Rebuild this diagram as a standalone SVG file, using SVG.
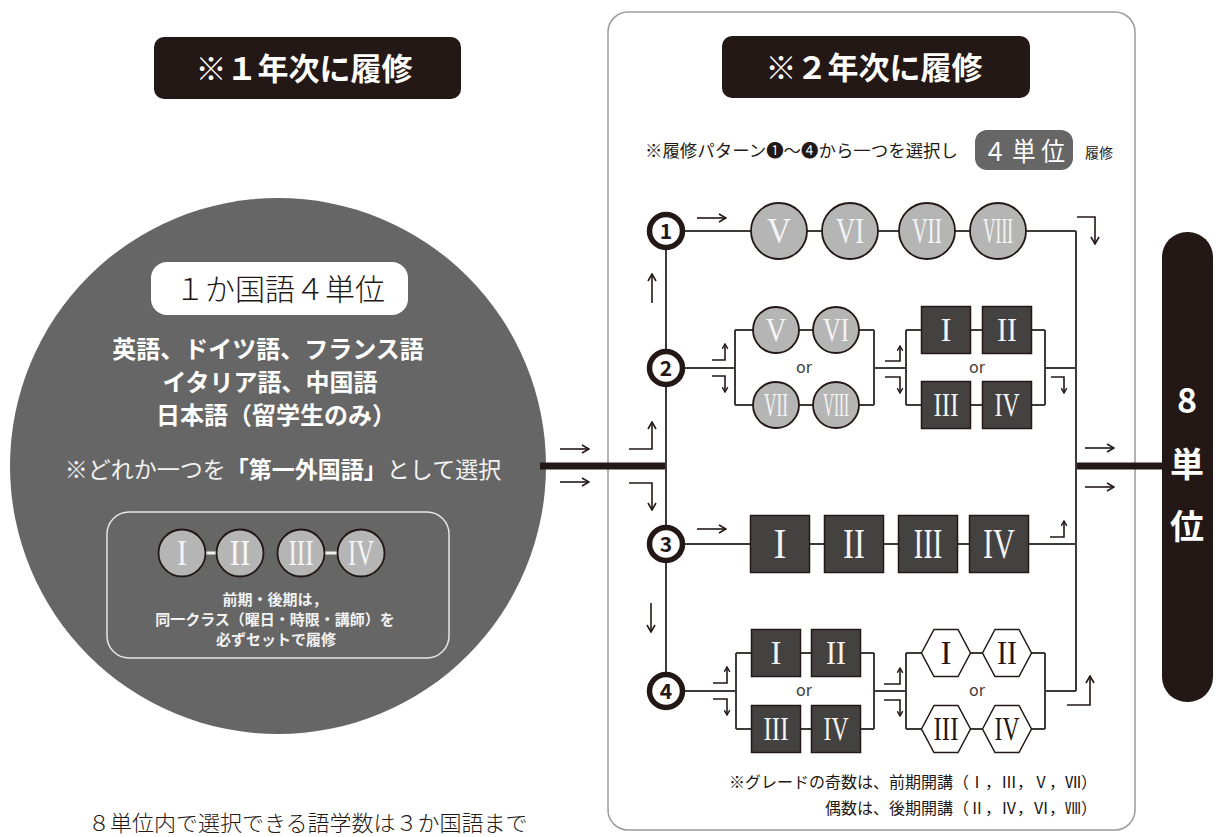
<svg xmlns="http://www.w3.org/2000/svg" width="1216" height="837" viewBox="0 0 1216 837">
<defs>
<style>
.jp{font-family:"Noto Sans CJK JP","Noto Sans CJK SC",sans-serif}
.ln{stroke:#3e3a39;stroke-width:2;fill:none}
.ar{stroke:#231815;stroke-width:1.6;fill:none}
.cg{fill:#b5b5b5;stroke:#231815;stroke-width:1.8}
.sq{fill:#444141;stroke:#231815;stroke-width:1.5}
.hx{fill:#fff;stroke:#231815;stroke-width:1.5}
.rn{font-family:"Liberation Serif","DejaVu Serif",serif;text-anchor:middle}
.rw{fill:#f4f4f4}
.rd{fill:#231815}
.nd{fill:#fff;stroke:#231815;stroke-width:5.5}
.ndt{font-family:"Noto Sans CJK JP",sans-serif;font-weight:700;font-size:21px;fill:#231815;text-anchor:middle}
.or{font-family:"Noto Sans CJK JP",sans-serif;font-size:16px;fill:#3e3a39;text-anchor:middle}
</style>
<marker id="ah" viewBox="0 0 10 10" refX="9" refY="5" markerWidth="10" markerHeight="10" markerUnits="userSpaceOnUse" orient="auto">
<path d="M2 1 L9 5 L2 9" fill="none" stroke="#231815" stroke-width="1.6"/>
</marker>
<marker id="as" viewBox="0 0 10 10" refX="9" refY="5" markerWidth="7" markerHeight="7" markerUnits="userSpaceOnUse" orient="auto">
<path d="M2 1 L9 5 L2 9" fill="none" stroke="#231815" stroke-width="2"/>
</marker>
<polygon id="hex" points="-24.5,0 -12,-23.5 12,-23.5 24.5,0 12,23.5 -12,23.5" class="hx"/>
</defs>

<rect width="1216" height="837" fill="#fff"/>

<g id="header1">
<rect x="154" y="37" width="307" height="62" rx="10" fill="#231815"/>
<text x="304" y="80" class="jp" font-size="31" font-weight="700" fill="#fff" text-anchor="middle">※１年次に履修</text>
</g>
<g id="panel2">
<rect x="608" y="12" width="527" height="818" rx="20" fill="none" stroke="#9a9a9a" stroke-width="1.5"/>
</g>
<g id="header2">
<rect x="722" y="36" width="308" height="62" rx="10" fill="#231815"/>
<text x="874" y="79" class="jp" font-size="31" font-weight="700" fill="#fff" text-anchor="middle">※２年次に履修</text>
</g>
<g id="subtitle">
<text x="645" y="157" class="jp" font-size="16.5" fill="#231815" textLength="313" lengthAdjust="spacingAndGlyphs">※履修パターン❶〜❹から一つを選択し</text>
<rect x="975" y="130" width="98" height="40" rx="12" fill="#666"/>
<text x="1024" y="161" class="jp" font-size="26" fill="#fff" text-anchor="middle" textLength="82" lengthAdjust="spacingAndGlyphs">４ 単 位</text>
<text x="1085" y="158" class="jp" font-size="14" fill="#231815">履修</text>
</g>

<g id="year1">
<circle cx="278" cy="466" r="268" fill="#666"/>
<rect x="151" y="262" width="257" height="53" rx="16" fill="#fff"/>
<text x="280" y="300" class="jp" font-size="30" font-weight="300" fill="#231815" text-anchor="middle">１か国語４単位</text>
<g class="jp" font-size="24" font-weight="700" fill="#fff" text-anchor="middle">
<text x="268" y="358">英語、ドイツ語、フランス語</text>
<text x="270" y="391">イタリア語、中国語</text>
<text x="276" y="424">日本語（留学生のみ）</text>
</g>
<text x="283" y="478" class="jp" font-size="23" fill="#f2f2f2" text-anchor="middle">※どれか一つを<tspan font-weight="700" fill="#fff">「第一外国語」</tspan>として選択</text>
<rect x="107" y="512" width="342" height="146" rx="22" fill="none" stroke="#e6e6e6" stroke-width="1.5"/>
<line x1="205" y1="553" x2="218" y2="553" stroke="#f0f0f0" stroke-width="3"/>
<line x1="323" y1="553" x2="339" y2="553" stroke="#f0f0f0" stroke-width="3"/>
<circle cx="182" cy="553" r="23.5" class="cg"/>
<circle cx="240" cy="553" r="23.5" class="cg"/>
<circle cx="301" cy="553" r="23.5" class="cg"/>
<circle cx="361" cy="553" r="23.5" class="cg"/>
<g class="rn rw" font-size="36">
<text x="182" y="565" textLength="10" lengthAdjust="spacingAndGlyphs">I</text>
<text x="240" y="565" textLength="21" lengthAdjust="spacingAndGlyphs">II</text>
<text x="301" y="565" textLength="25" lengthAdjust="spacingAndGlyphs">III</text>
<text x="361" y="565" textLength="26" lengthAdjust="spacingAndGlyphs">IV</text>
</g>
<g class="jp" font-size="15" font-weight="700" fill="#f2f2f2" text-anchor="middle">
<text x="275" y="605">前期・後期は，</text>
<text x="275" y="625">同一クラス（曜日・時限・講師）を</text>
<text x="276" y="645">必ずセットで履修</text>
</g>
</g>

<text id="note-left" x="88" y="831" class="jp" font-size="22" font-weight="300" fill="#231815">８単位内で選択できる語学数は３か国語まで</text>

<g id="connectors">
<line x1="540" y1="466" x2="666" y2="466" stroke="#231815" stroke-width="7"/>
<line x1="1076" y1="466" x2="1165" y2="466" stroke="#231815" stroke-width="7"/>
<line x1="666" y1="231" x2="666" y2="691" class="ln"/>
<line x1="1076" y1="231" x2="1076" y2="691" class="ln"/>
<line x1="666" y1="231" x2="1076" y2="231" class="ln"/>
<path class="ln" d="M666 368 H735 M735 330 V405 M735 330 H760 M735 405 H760 M790 330 H820 M790 405 H820 M850 330 H874 M850 405 H874 M874 330 V405 M874 368 H906 M906 330 V405 M906 330 H925 M906 405 H925 M965 330 H985 M965 405 H985 M1028 330 H1045 M1028 405 H1045 M1045 330 V405 M1045 368 H1076"/>
<line x1="666" y1="544" x2="1076" y2="544" class="ln"/>
<path class="ln" d="M666 691 H736 M736 653 V729 M736 653 H760 M736 729 H760 M790 653 H820 M790 729 H820 M850 653 H874 M850 729 H874 M874 653 V729 M874 691 H906 M906 653 V729 M906 653 H925 M906 729 H925 M965 653 H985 M965 729 H985 M1028 653 H1045 M1028 729 H1045 M1045 653 V729 M1045 691 H1076"/>
<g class="ar">
<path d="M560 449 H589" marker-end="url(#ah)"/>
<path d="M560 482 H589" marker-end="url(#ah)"/>
<path d="M629 449 H652 V422" marker-end="url(#ah)"/>
<path d="M629 483 H652 V510" marker-end="url(#ah)"/>
<path d="M652 303 V274" marker-end="url(#ah)"/>
<path d="M651 603 V632" marker-end="url(#ah)"/>
<path d="M697 218 H726" marker-end="url(#ah)"/>
<path d="M697 529 H726" marker-end="url(#ah)"/>
<path d="M1077 217 H1095 V244" marker-end="url(#ah)"/>
<path d="M1085 448 H1114" marker-end="url(#ah)"/>
<path d="M1085 487 H1114" marker-end="url(#ah)"/>
<path d="M1067 705 H1090 V676" marker-end="url(#ah)"/>
<path d="M712 360 H725 V344" marker-end="url(#as)"/>
<path d="M712 376 H725 V392" marker-end="url(#as)"/>
<path d="M885 361 H900 V346" marker-end="url(#as)"/>
<path d="M885 377 H900 V393" marker-end="url(#as)"/>
<path d="M1051 377 H1064 V393" marker-end="url(#as)"/>
<path d="M1050 537 H1064 V521" marker-end="url(#as)"/>
<path d="M713 683 H727 V667" marker-end="url(#as)"/>
<path d="M713 699 H727 V715" marker-end="url(#as)"/>
<path d="M884 684 H900 V668" marker-end="url(#as)"/>
<path d="M884 700 H900 V716" marker-end="url(#as)"/>
</g>
</g>

<g id="node1"><circle cx="666" cy="231" r="16.5" class="nd"/><text x="666" y="239" class="ndt">1</text></g>
<g id="node2"><circle cx="666" cy="368" r="16.5" class="nd"/><text x="666" y="376" class="ndt">2</text></g>
<g id="node3"><circle cx="666" cy="544" r="16.5" class="nd"/><text x="666" y="552" class="ndt">3</text></g>
<g id="node4"><circle cx="666" cy="691" r="16.5" class="nd"/><text x="666" y="699" class="ndt">4</text></g>

<g id="row1">
<circle cx="779" cy="231" r="28" class="cg"/>
<circle cx="850" cy="231" r="28" class="cg"/>
<circle cx="927" cy="231" r="28" class="cg"/>
<circle cx="998" cy="231" r="28" class="cg"/>
<g class="rn rw" font-size="36">
<text x="779" y="243" textLength="24" lengthAdjust="spacingAndGlyphs">V</text>
<text x="850" y="243" textLength="28" lengthAdjust="spacingAndGlyphs">VI</text>
<text x="927" y="243" textLength="30" lengthAdjust="spacingAndGlyphs">VII</text>
<text x="998" y="243" textLength="30" lengthAdjust="spacingAndGlyphs">VIII</text>
</g>
</g>

<g id="row2">
<circle cx="776" cy="330" r="23" class="cg"/>
<circle cx="836" cy="330" r="23" class="cg"/>
<circle cx="776" cy="405" r="23" class="cg"/>
<circle cx="836" cy="405" r="23" class="cg"/>
<rect x="921.5" y="306.5" width="49" height="47" class="sq"/>
<rect x="982.5" y="306.5" width="49" height="47" class="sq"/>
<rect x="921.5" y="381.5" width="49" height="47" class="sq"/>
<rect x="982.5" y="381.5" width="49" height="47" class="sq"/>
<g class="rn rw" font-size="34">
<text x="776" y="341" textLength="21" lengthAdjust="spacingAndGlyphs">V</text>
<text x="836" y="341" textLength="26" lengthAdjust="spacingAndGlyphs">VI</text>
<text x="776" y="416" textLength="24" lengthAdjust="spacingAndGlyphs">VII</text>
<text x="836" y="416" textLength="26" lengthAdjust="spacingAndGlyphs">VIII</text>
<text x="946" y="341" textLength="11" lengthAdjust="spacingAndGlyphs">I</text>
<text x="1007" y="341" textLength="20" lengthAdjust="spacingAndGlyphs">II</text>
<text x="946" y="416" textLength="25" lengthAdjust="spacingAndGlyphs">III</text>
<text x="1007" y="416" textLength="25" lengthAdjust="spacingAndGlyphs">IV</text>
</g>
<text x="804" y="373" class="or">or</text>
<text x="977" y="373" class="or">or</text>
</g>

<g id="row3">
<rect x="750.5" y="515.5" width="59" height="57" class="sq"/>
<rect x="824.5" y="515.5" width="59" height="57" class="sq"/>
<rect x="898.5" y="515.5" width="59" height="57" class="sq"/>
<rect x="969.5" y="515.5" width="59" height="57" class="sq"/>
<g class="rn rw" font-size="42">
<text x="780" y="558" textLength="13" lengthAdjust="spacingAndGlyphs">I</text>
<text x="854" y="558" textLength="22" lengthAdjust="spacingAndGlyphs">II</text>
<text x="928" y="558" textLength="29" lengthAdjust="spacingAndGlyphs">III</text>
<text x="999" y="558" textLength="32" lengthAdjust="spacingAndGlyphs">IV</text>
</g>
</g>

<g id="row4">
<rect x="751.5" y="629.5" width="49" height="47" class="sq"/>
<rect x="811.5" y="629.5" width="49" height="47" class="sq"/>
<rect x="751.5" y="705.5" width="49" height="47" class="sq"/>
<rect x="811.5" y="705.5" width="49" height="47" class="sq"/>
<use href="#hex" x="946" y="653"/>
<use href="#hex" x="1007" y="653"/>
<use href="#hex" x="946" y="729"/>
<use href="#hex" x="1007" y="729"/>
<g class="rn rw" font-size="34">
<text x="776" y="664" textLength="11" lengthAdjust="spacingAndGlyphs">I</text>
<text x="836" y="664" textLength="20" lengthAdjust="spacingAndGlyphs">II</text>
<text x="776" y="740" textLength="25" lengthAdjust="spacingAndGlyphs">III</text>
<text x="836" y="740" textLength="25" lengthAdjust="spacingAndGlyphs">IV</text>
</g>
<g class="rn rd" font-size="34">
<text x="946" y="664" textLength="11" lengthAdjust="spacingAndGlyphs">I</text>
<text x="1007" y="664" textLength="20" lengthAdjust="spacingAndGlyphs">II</text>
<text x="946" y="740" textLength="25" lengthAdjust="spacingAndGlyphs">III</text>
<text x="1007" y="740" textLength="25" lengthAdjust="spacingAndGlyphs">IV</text>
</g>
<text x="804" y="696" class="or">or</text>
<text x="977" y="696" class="or">or</text>
</g>

<g id="total">
<rect x="1162" y="232" width="51" height="470" rx="25" fill="#231815"/>
<g class="jp" font-size="34" font-weight="700" fill="#fff" text-anchor="middle">
<text x="1187" y="413">8</text>
<text x="1187" y="477">単</text>
<text x="1187" y="539">位</text>
</g>
</g>

<g id="footnote" class="jp" font-size="16" fill="#231815" text-anchor="end">
<text x="1097" y="788">※グレードの奇数は、前期開講（Ⅰ，Ⅲ，Ⅴ，Ⅶ）</text>
<text x="1097" y="814">偶数は、後期開講（Ⅱ，Ⅳ，Ⅵ，Ⅷ）</text>
</g>
</svg>
